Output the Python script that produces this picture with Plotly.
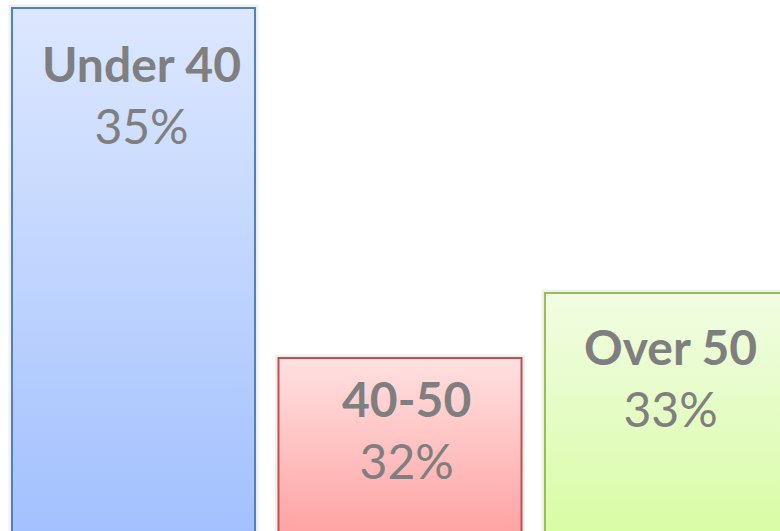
import plotly.graph_objects as go

categories = ["Under 40", "40-50", "Over 50"]
percent_labels = ["35%", "32%", "33%"]
bar_heights = [523, 173, 238]  # visual bar heights (chart units)

fill_top = ["#dde8fe", "#ffe1e1", "#f1fde3"]
fill_bottom = ["#a3c1fe", "#ffa4a4", "#d9fca6"]
outline = ["#4f81bd", "#c0504d", "#9bbb59"]
text_offsets = [37, 22, 35]
text_xshift = [0.03, 0.025, 0.015]

bar_width = 0.912

fig = go.Figure()
for i, (cat, h) in enumerate(zip(categories, bar_heights)):
    x0, x1 = i - bar_width / 2, i + bar_width / 2
    # soft shadow
    fig.add_trace(go.Scatter(
        x=[x0, x0, x1, x1], y=[0, h, h, 0],
        mode="lines", line=dict(color="rgba(0,0,0,0.06)", width=7),
        hoverinfo="skip", showlegend=False))
    fig.add_trace(go.Scatter(
        x=[x0, x0, x1, x1], y=[0, h, h, 0],
        mode="lines", fill="toself",
        fillgradient=dict(type="vertical",
                          colorscale=[[0, fill_bottom[i]], [1, fill_top[i]]]),
        line=dict(color=outline[i], width=2),
        name=cat, showlegend=False, hoverinfo="skip"))
    fig.add_annotation(
        x=i + text_xshift[i], y=h, xref="x", yref="y",
        text=f"<b>{cat}</b><br>{percent_labels[i]}",
        showarrow=False, yanchor="top", xanchor="center",
        yshift=-text_offsets[i] + 12,
        font=dict(family="Lato", size=48, color="#7f7f7f"))

fig.update_layout(
    width=780, height=531,
    margin=dict(l=0, r=0, t=0, b=0),
    paper_bgcolor="white", plot_bgcolor="white",
    xaxis=dict(range=[-0.501, 2.426], visible=False, fixedrange=True),
    yaxis=dict(range=[0, 531], visible=False, fixedrange=True),
)

fig.write_html("out.html", config={"displayModeBar": False, "staticPlot": True},
               post_script="document.body.style.margin='0';document.body.style.overflow='hidden';")
